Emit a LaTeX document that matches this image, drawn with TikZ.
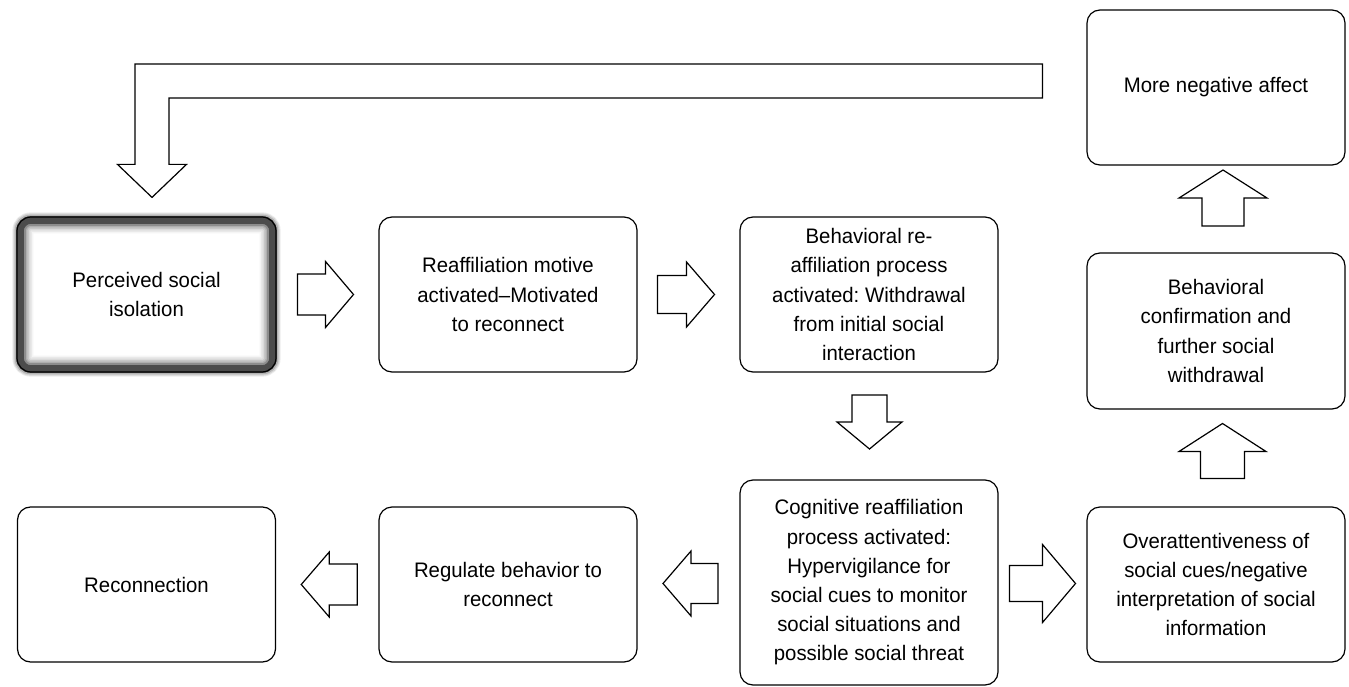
\documentclass[tikz,border=0pt]{standalone}
\usepackage{fontspec}
\setmainfont{Liberation Sans}[FakeStretch=0.97]
\usetikzlibrary{calc,backgrounds}
\newcommand\blockarrow[6]{% #1 centre, #2 angle, #3 length, #4 head width, #5 shaft width, #6 head length
  \begin{scope}[shift={#1}, rotate=#2]
    \draw[blk] ({-#3/2},{-#5/2}) -- ({#3/2-#6},{-#5/2}) -- ({#3/2-#6},{-#4/2}) -- ({#3/2},0)
      -- ({#3/2-#6},{#4/2}) -- ({#3/2-#6},{#5/2}) -- ({-#3/2},{#5/2}) -- cycle;
  \end{scope}}
\begin{document}
\frenchspacing
\begin{tikzpicture}[x=1pt,y=-1pt,
  box/.style={draw=black, line width=1.2pt, rounded corners=13pt, minimum width=258pt,
    minimum height=155pt, align=center, inner sep=0pt, font=\fontsize{21}{29.2}\selectfont},
  blk/.style={draw=black, line width=1.2pt, fill=white, line join=miter},
  glowline/.style={rounded corners=14pt}]
\useasboundingbox (0,0) rectangle (1349,687);

\node[box, minimum width=259pt, rounded corners=14pt] (perc) at (146.5,294.5) {Perceived social\\isolation};
\node[box] (reaff) at (508,294.5) {Reaffiliation motive\\activated–Motivated\\to reconnect};
\node[box] (behav) at (869,294.5) {Behavioral re-\\affiliation process\\activated: Withdrawal\\from initial social\\interaction};
\node[box] (more) at (1216,87.5) {More negative affect};
\node[box, minimum height=156pt] (conf) at (1216,331) {Behavioral\\confirmation and\\further social\\withdrawal};
\node[box] (over) at (1216,584.5) {Overattentiveness of\\social cues/negative\\interpretation of social\\information};
\node[box, minimum height=205pt] (cogn) at (869,582.5) {Cognitive reaffiliation\\process activated:\\Hypervigilance for\\social cues to monitor\\social situations and\\possible social threat};
\node[box] (regul) at (508,584.5) {Regulate behavior to\\reconnect};
\node[box] (recon) at (146.5,584.5) {Reconnection};

% glow around the first box
\begin{pgfonlayer}{background}
  \foreach \w/\o in {8/0.12, 6/0.18, 3.5/0.3}
    \draw[glowline, line width=\w pt, black!60, opacity=\o] (perc.north west) rectangle (perc.south east);
  \begin{scope}
    \clip[glowline] (perc.north west) rectangle (perc.south east);
    \foreach \w/\o in {34/0.05, 31/0.07, 28/0.09, 25/0.12, 22/0.18, 19/0.3}
      \draw[glowline, line width=\w pt, black!75, opacity=\o] (perc.north west) rectangle (perc.south east);
    \draw[glowline, line width=15pt, black!70] (perc.north west) rectangle (perc.south east);
  \end{scope}
\end{pgfonlayer}

% block arrows between boxes
\blockarrow{($(perc.east)!0.5!(reaff.west)+(-2,0)$)}{0}{56}{66}{41}{28}
\blockarrow{($(reaff.east)!0.5!(behav.west)+(-2.5,0)$)}{0}{57}{65}{38}{28}
\blockarrow{($(behav.south)!0.5!(cogn.north)+(0.5,-4)$)}{-90}{54}{65}{35}{27}
\blockarrow{($(cogn.west)!0.5!(regul.east)+(2,0)$)}{180}{55}{65}{40}{28}
\blockarrow{($(regul.west)!0.5!(recon.east)+(2,0)$)}{180}{56}{65}{41}{28}
\blockarrow{($(cogn.east)!0.5!(over.west)$)}{0}{66}{78}{36}{33}
\blockarrow{($(over.north)!0.5!(conf.south)+(6.5,-7)$)}{90}{55}{87}{44}{28}
\blockarrow{($(conf.north)!0.5!(more.south)+(7,-11)$)}{90}{56}{88}{42}{28}

% feedback arrow
\coordinate (fbtip) at ($(perc.north)+(5.5,-19)$);
\coordinate (fbend) at ($(more.west)+(-44,-6.5)$);
\draw[blk] ($(fbend)+(0,-17)$) -- ($(fbtip |- fbend)+(-17,-17)$) -- ($(fbtip)+(-17,-33)$)
  -- ($(fbtip)+(-34.5,-33)$) -- (fbtip) -- ($(fbtip)+(34.5,-33)$) -- ($(fbtip)+(17,-33)$)
  -- ($(fbtip |- fbend)+(17,17)$) -- ($(fbend)+(0,17)$) -- cycle;
\end{tikzpicture}
\end{document}
